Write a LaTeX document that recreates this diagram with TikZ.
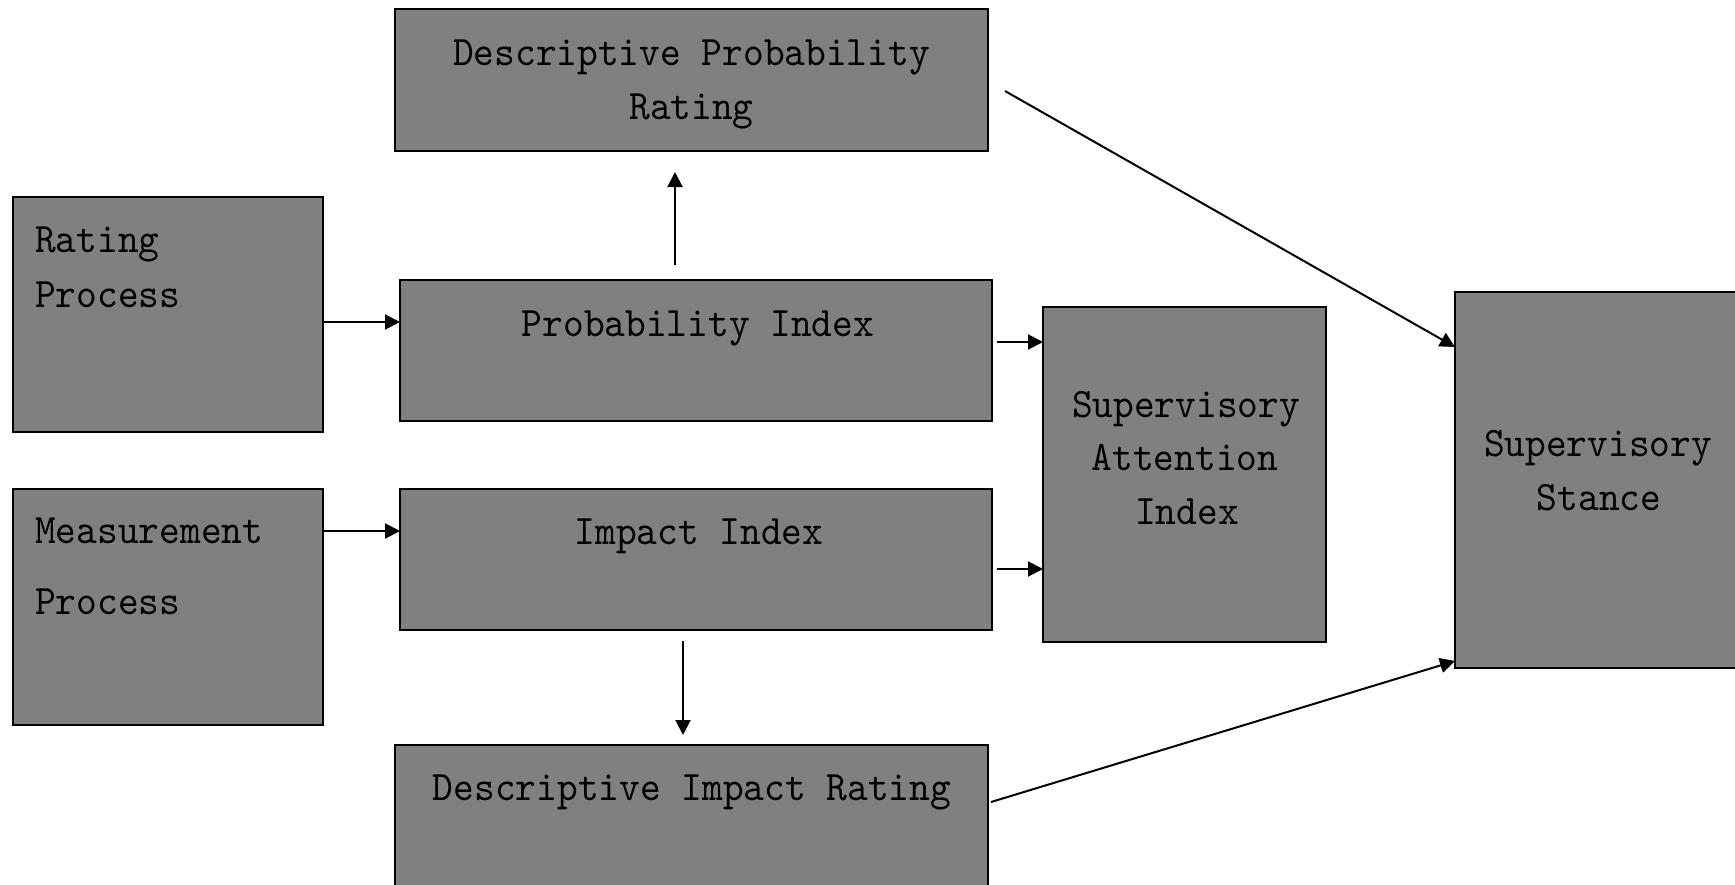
\documentclass[tikz,border=0pt]{standalone}
\usepackage{fontspec}
\usetikzlibrary{arrows.meta}
\definecolor{boxgray}{RGB}{128,128,128}
\newfontfamily\boxfamily{lmmono10-regular.otf}[FakeStretch=0.94]
\newcommand\boxfont{\boxfamily\fontsize{42}{54}\selectfont}
\begin{document}
\begin{tikzpicture}[x=1pt,y=-1pt,
  box/.style={draw=black, fill=boxgray, line width=2pt, inner sep=0pt, outer sep=0pt, rectangle},
  lbl/.style={font=\boxfont, inner sep=0pt, anchor=base, text=black},
  lbll/.style={lbl, anchor=base west},
  arr/.style={line width=2pt, -{Triangle[length=15pt,width=15pt]}}]
\useasboundingbox (0,0) rectangle (1735,884);
\clip (0,0) rectangle (1735,884);
% boxes
\node[box, minimum width=593pt, minimum height=142pt] (dpr) at (691.5,80) {};
\node[box, minimum width=310pt, minimum height=235pt] (rp) at (168,314.5) {};
\node[box, minimum width=592pt, minimum height=141pt] (pi) at (696,350.5) {};
\node[box, minimum width=283pt, minimum height=335pt] (sai) at (1184.5,474.5) {};
\node[box, minimum width=300pt, minimum height=376pt] (ss) at (1605,480) {};
\node[box, minimum width=310pt, minimum height=236pt] (mp) at (168,607) {};
\node[box, minimum width=592pt, minimum height=141pt] (ii) at (696,559.5) {};
\node[box, minimum width=593pt, minimum height=149pt] (dir) at (691.5,819.5) {};
% labels
\node[lbl] (dprA) at (691.5,65) {Descriptive Probability};
\node[lbl] (dprB) at (691.5,119) {Rating};
\node[lbll] (rpA) at (35,252) {Rating};
\node[lbll] (rpB) at (35,307) {Process};
\node[lbl] (piA) at (698,336) {Probability Index};
\node[lbl] (saiA) at (1186,417) {Supervisory};
\node[lbl] (saiB) at (1185,470) {Attention};
\node[lbl] (saiC) at (1187,524) {Index};
\node[lbl] (ssA) at (1598,456) {Supervisory};
\node[lbl] (ssB) at (1599,510) {Stance};
\node[lbll] (mpA) at (35,543) {Measurement};
\node[lbll] (mpB) at (35,614) {Process};
\node[lbl] (iiA) at (699,544) {Impact Index};
\node[lbl] (dirA) at (692,800) {Descriptive Impact Rating};
% connectors
\draw[arr, shorten <=15pt, shorten >=21pt] ([xshift=-21pt]pi.north) -- ([xshift=-21pt]pi.north |- dpr.south);
\draw[arr] ([yshift=-7.5pt]rp.east) -- ([yshift=-7.5pt]rp.east -| pi.west);
\draw[arr] ([yshift=76pt]mp.east) -- ([yshift=76pt]mp.east -| ii.west);
\draw[arr, shorten <=5pt] ([yshift=8.5pt]pi.east) -- ([yshift=8.5pt]pi.east -| sai.west);
\draw[arr, shorten <=5pt] ([yshift=-9.5pt]ii.east) -- ([yshift=-9.5pt]ii.east -| sai.west);
\draw[arr, shorten <=11pt, shorten >=10pt] ([xshift=-13pt]ii.south) -- ([xshift=-13pt]ii.south |- dir.north);
\draw[arr] ([xshift=17pt,yshift=-11pt]dpr.east) -- ([yshift=133pt]ss.west);
\draw[arr] ([xshift=3pt,yshift=17.5pt]dir.east) -- ([yshift=-181pt]ss.west);
\end{tikzpicture}
\end{document}
